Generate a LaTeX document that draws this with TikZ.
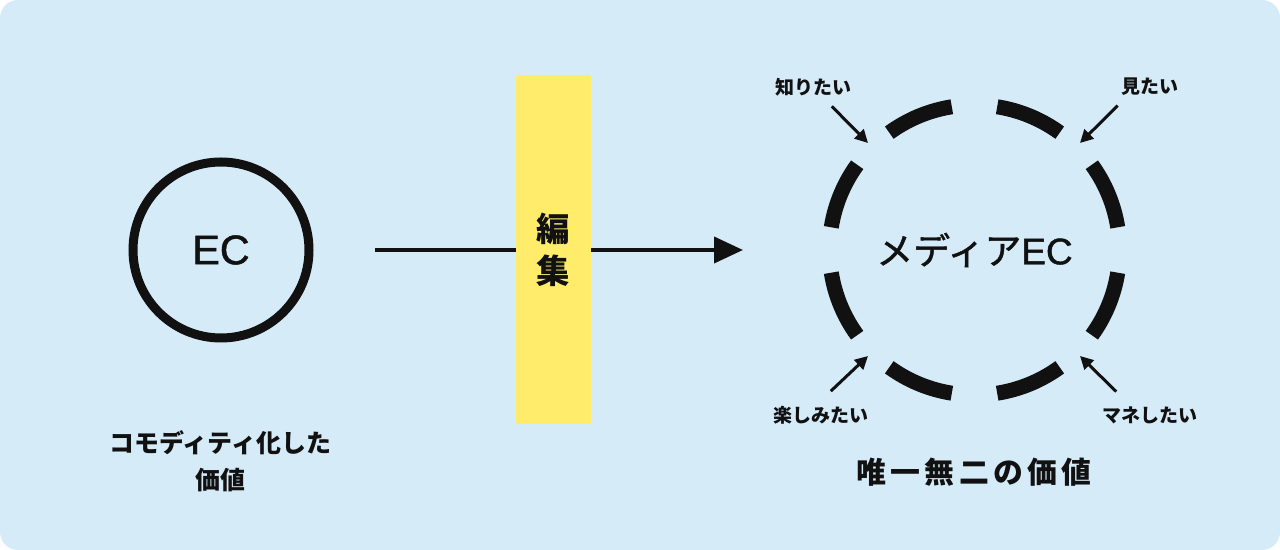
\documentclass[tikz,border=0pt]{standalone}
\usepackage{fontspec}
\setmainfont{Noto Sans CJK JP}
\newfontfamily\ecfont[FakeBold=1.2]{Liberation Sans}
\newfontfamily\mediafont[FakeBold=1.2]{Noto Sans CJK JP}
\usetikzlibrary{arrows.meta,positioning}
\definecolor{PageBlue}{HTML}{D5EBF8}
\definecolor{EditYellow}{HTML}{FFEC6A}
\definecolor{InkBlack}{HTML}{111111}

\begin{document}
\begin{tikzpicture}[
        ring/.style={InkBlack, line width=0.3cm},
        wish/.style={text=InkBlack, inner sep=2pt, font=\fontsize{10.8}{13}\selectfont\bfseries},
        wisharrow/.style={InkBlack, line width=0.06cm, -{Triangle[length=0.26cm,width=0.26cm]}},
        caption/.style={text=InkBlack, align=center, font=\fontsize{14.2}{20.8}\selectfont\bfseries}
    ]
        \fill[PageBlue, rounded corners=0.36cm] (0,0) rectangle (25.6,11);

        \node[circle, draw=InkBlack, line width=0.18cm, minimum size=3.52cm, outer sep=0pt,
            text=InkBlack, font=\fontsize{23.5}{26}\ecfont] (ec) at (4.42,6.0) {EC};
        \node[circle, minimum size=6.12cm, outer sep=0pt,
            text=InkBlack, font=\fontsize{21}{24}\mediafont] (media) at (19.49,6.0) {メディア{\ecfont EC}};

        \draw[InkBlack, line width=0.08cm, -{Triangle[length=0.58cm,width=0.52cm]},
            shorten <=1.32cm, shorten >=1.57cm] (ec) -- (media);

        \node[fill=EditYellow, minimum width=1.5cm, minimum height=6.98cm, inner sep=0pt,
            align=center, text=InkBlack, font=\fontsize{19}{23.9}\selectfont\bfseries] (edit) at (11.07,6.01) {編\\集};

        % dashed ring
        \foreach \k in {0,...,7}
            \draw[ring] ([shift={(\k*45+9:2.9)}]media.center) arc[start angle=\k*45+9, end angle=\k*45+36, radius=2.9];

        \node[wish] (know) at (16.27,9.26) {知りたい};
        \node[wish] (see) at (23.0,9.26) {見たい};
        \node[wish] (enjoy) at (16.42,2.7) {楽しみたい};
        \node[wish] (copy) at (23.0,2.7) {マネしたい};

        \coordinate (knowtip) at (17.36,8.14);
        \coordinate (seetip) at (21.6,8.14);
        \coordinate (enjoytip) at (17.36,3.88);
        \coordinate (copytip) at (21.6,3.88);

        \draw[wisharrow] ([xshift=-0.47cm,yshift=-0.13cm]know.south east) -- (knowtip);
        \draw[wisharrow] ([yshift=-0.12cm]see.south west) -- (seetip);
        \draw[wisharrow] ([xshift=-0.83cm,yshift=0.22cm]enjoy.north east) -- (enjoytip);
        \draw[wisharrow] ([xshift=0.35cm,yshift=0.22cm]copy.north west) -- (copytip);

        \node[caption] (commodity) at (4.41,1.78) {コモディティ化した\\価値};
        \node[caption, font=\fontsize{17}{20}\selectfont\bfseries\addfontfeatures{LetterSpace=14}] (unique) at (19.48,1.55) {唯一無二の価値};
    \end{tikzpicture}
\end{document}
